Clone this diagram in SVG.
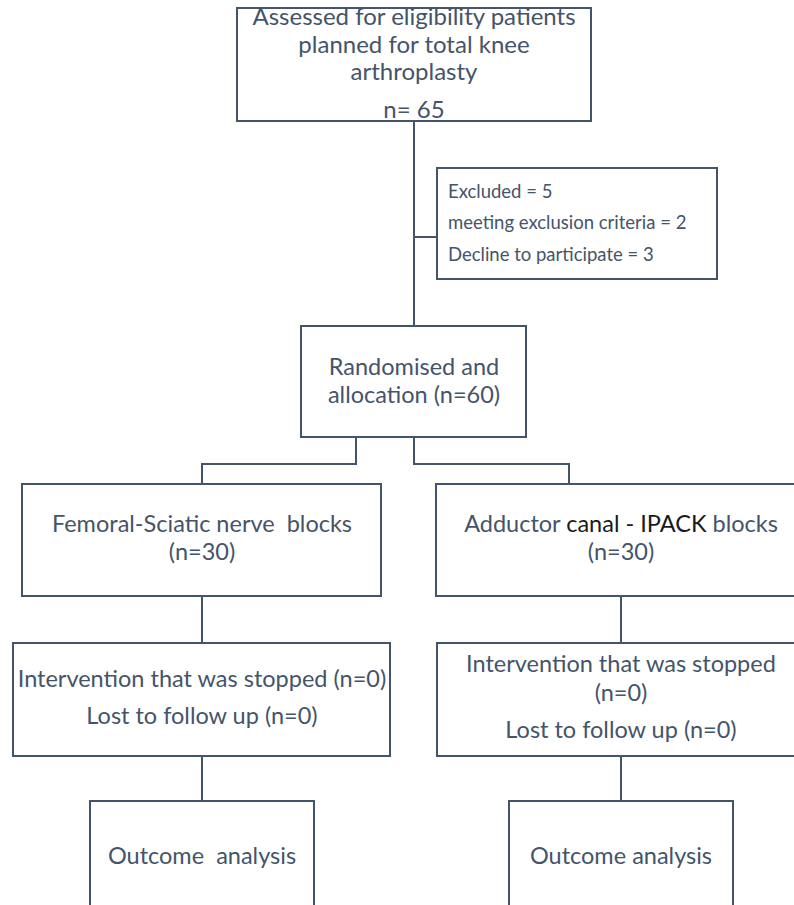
<svg xmlns="http://www.w3.org/2000/svg" width="794" height="905" viewBox="0 0 794 905">
<style>
.box{fill:#fff;stroke:#44546A;stroke-width:2}
.ln{fill:none;stroke:#44546A;stroke-width:2}
text{font-family:Lato,"Liberation Sans",sans-serif;fill:#44546A;font-size:23.5px}
.c{text-anchor:middle}
.big{font-size:24px}
.sm{font-size:18.5px}
.blk{fill:#1a1a1a}
</style>
<rect width="794" height="905" fill="#fff"/>
<g id="connectors">
<path class="ln" d="M414 121V326"/>
<path class="ln" d="M414 237H437"/>
<path class="ln" d="M356 437V464H202V484"/>
<path class="ln" d="M414 437V464H569V484"/>
<path class="ln" d="M202 596V643"/>
<path class="ln" d="M621 596V643"/>
<path class="ln" d="M202 756V801"/>
<path class="ln" d="M621 756V801"/>
</g>
<g id="assessed">
<rect class="box" x="237" y="8" width="354" height="113"/>
<text class="c big" x="414" y="25">Assessed for eligibility patients</text>
<text class="c big" x="414" y="53">planned for total knee</text>
<text class="c big" x="414" y="80">arthroplasty</text>
<text class="c big" x="414" y="118">n= 65</text>
</g>
<g id="excluded">
<rect class="box" x="437" y="168" width="280" height="111"/>
<text class="sm" x="448" y="198">Excluded = 5</text>
<text class="sm" x="448" y="229">meeting exclusion criteria = 2</text>
<text class="sm" x="448" y="261">Decline to participate = 3</text>
</g>
<g id="randomised">
<rect class="box" x="301" y="326" width="225" height="111"/>
<text class="c" x="414" y="375">Randomised and</text>
<text class="c" x="414" y="403">allocation (n=60)</text>
</g>
<g id="femoral">
<rect class="box" x="22" y="484" width="359" height="112"/>
<text class="c" x="202" y="532" xml:space="preserve">Femoral-Sciatic nerve  blocks</text>
<text class="c" x="202" y="560">(n=30)</text>
</g>
<g id="adductor">
<rect class="box" x="436" y="484" width="380" height="112"/>
<text class="c" x="621" y="532">Adductor <tspan class="blk">canal - IPACK</tspan> blocks</text>
<text class="c" x="621" y="560">(n=30)</text>
</g>
<g id="intervention-left">
<rect class="box" x="13" y="643" width="377" height="113"/>
<text class="c" x="202" y="687">Intervention that was stopped (n=0)</text>
<text class="c" x="202" y="724">Lost to follow up (n=0)</text>
</g>
<g id="intervention-right">
<rect class="box" x="437" y="643" width="380" height="113"/>
<text class="c" x="621" y="672">Intervention that was stopped</text>
<text class="c" x="621" y="701">(n=0)</text>
<text class="c" x="621" y="738">Lost to follow up (n=0)</text>
</g>
<g id="outcome-left">
<rect class="box" x="90" y="801" width="224" height="130"/>
<text class="c" x="202" y="864" xml:space="preserve">Outcome  analysis</text>
</g>
<g id="outcome-right">
<rect class="box" x="509" y="801" width="224" height="130"/>
<text class="c" x="621" y="864">Outcome analysis</text>
</g>
</svg>
